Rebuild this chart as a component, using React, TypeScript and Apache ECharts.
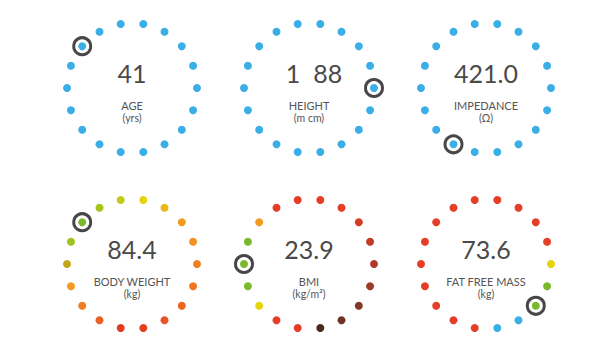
import React, { useEffect, useRef } from "react";
import * as echarts from "echarts";

const dotAngles = [0, 20, 40, 60, 80, 100, 120, 140, 160, 180, 200, 220, 240, 260, 280, 300, 320, 340];
const metricValues = ["41", "1  88", "421.0", "84.4", "23.9", "73.6"];
const metricLabels = ["AGE", "HEIGHT", "IMPEDANCE", "BODY WEIGHT", "BMI", "FAT FREE MASS"];
const metricUnits = ["(yrs)", "(m cm)", "(Ω)", "(kg)", "(kg/m²)", "(kg)"];
const selectedAngles = [140, 0, 240, 140, 180, 320];

const B = "#3aaee6";
const R = "#e63e26";
const G = "#7ab82c";
const Y = "#e6d40a";
const ageColors = [B, B, B, B, B, B, B, B, B, B, B, B, B, B, B, B, B, B];
const heightColors = [B, B, B, B, B, B, B, B, B, B, B, B, B, B, B, B, B, B];
const impedanceColors = [B, B, B, B, B, B, B, B, B, B, B, B, B, B, B, B, B, B];
const weightColors = ["#ef7f1f", "#f39223", "#f49a1f", "#ebb714", "#e6d40a", "#bfcc18", "#a3c61c", G, "#9dc41e", "#c4a718", "#f39a1f", "#ef7d20", "#eb5f25", "#e03a20", "#e2401f", "#e85424", "#ec6422", "#ef7321"];
const bmiColors = ["#b0392a", "#c23a25", "#d53c25", R, R, R, R, "#f39b1f", G, G, G, Y, R, R, "#4a2a1e", "#6e3424", "#823a28", "#9a3a2a"];
const ffmColors = [Y, R, R, R, R, R, R, R, R, R, R, R, R, R, B, B, G, G];
const ringColors = [ageColors, heightColors, impedanceColors, weightColors, bmiColors, ffmColors];

const centers = [[132, 88], [309, 88], [486, 88], [132, 264], [309, 264], [486, 264]];
const valueOffsetX = [0, 5, 0, 0, 0, 0];

export default function App() {
  const ref = useRef<HTMLDivElement>(null);
  useEffect(() => {
    if (!ref.current) return;
    const chart = echarts.init(ref.current, null, { renderer: "svg" });
    const polar: any[] = [];
    const angleAxis: any[] = [];
    const radiusAxis: any[] = [];
    const series: any[] = [];
    const graphic: any[] = [];
    centers.forEach((c, i) => {
      polar.push({ center: [c[0], c[1]], radius: 65 });
      angleAxis.push({ polarIndex: i, type: "value", min: 0, max: 360, startAngle: 0, clockwise: false, show: false });
      radiusAxis.push({ polarIndex: i, type: "value", min: 0, max: 1, show: false });
      series.push({
        type: "scatter",
        coordinateSystem: "polar",
        polarIndex: i,
        symbol: "circle",
        symbolSize: 8,
        silent: true,
        itemStyle: { opacity: 1 },
        data: dotAngles.map((a, j) => ({ value: [1, a], itemStyle: { color: ringColors[i][j], opacity: 1 } })),
        z: 2,
      });
      series.push({
        type: "scatter",
        coordinateSystem: "polar",
        polarIndex: i,
        symbol: "circle",
        symbolSize: 17,
        silent: true,
        itemStyle: { color: "rgba(0,0,0,0)", borderColor: "#474747", borderWidth: 3, opacity: 1 },
        data: [[1, selectedAngles[i]]],
        z: 3,
      });
      const top = c[1];
      graphic.push({
        type: "text",
        x: c[0] + valueOffsetX[i],
        y: top - 15,
        style: { text: metricValues[i], fontFamily: "Lato", fontSize: 25, fill: "#4a4a4a", textAlign: "center", textVerticalAlign: "middle" },
      });
      graphic.push({
        type: "text",
        x: c[0],
        y: top + 17.5,
        style: { text: metricLabels[i], fontFamily: "Lato", fontSize: 11, fill: "#555555", textAlign: "center", textVerticalAlign: "middle" },
      });
      graphic.push({
        type: "text",
        x: c[0],
        y: top + 30,
        style: { text: metricUnits[i], fontFamily: "Lato", fontSize: 10.5, fill: "#555555", textAlign: "center", textVerticalAlign: "middle" },
      });
    });
    chart.setOption({
      animation: false,
      backgroundColor: "#ffffff",
      polar,
      angleAxis,
      radiusAxis,
      series,
      graphic,
    });
    return () => chart.dispose();
  }, []);
  return <div ref={ref} style={{ position: "fixed", left: 0, top: 0, width: 616, height: 360 }} />;
}
